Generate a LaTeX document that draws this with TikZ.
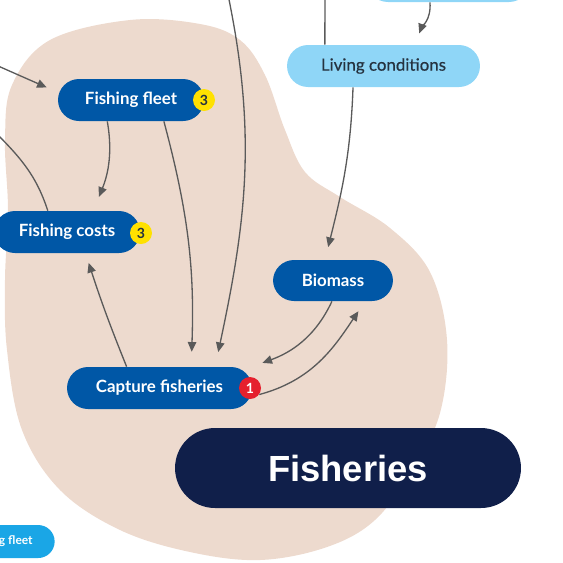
\documentclass[tikz,border=0pt]{standalone}
\usepackage{fontspec}
\setmainfont{Lato}
\newfontfamily\titlefont{Liberation Sans}
\newfontface\medfont{Lato}[FakeBold=0.5]
\usetikzlibrary{arrows.meta, calc}

\definecolor{blob}{HTML}{EDDACE}
\definecolor{fishblue}{HTML}{0057A6}
\definecolor{skyblue}{HTML}{8FD6F7}
\definecolor{cyanblue}{HTML}{1AA6E6}
\definecolor{navy}{HTML}{101F4A}
\definecolor{linkgray}{HTML}{5A5A5A}
\definecolor{badgeyellow}{HTML}{FFE100}
\definecolor{badgered}{HTML}{E5202E}
\definecolor{labeldark}{HTML}{25323F}

\begin{document}
\begin{tikzpicture}[x=0.02cm, y=-0.02cm,
  >={Triangle[length=5.5pt,width=4.8pt]},
  pill/.style={rectangle, rounded corners=0.42cm, minimum height=0.84cm, inner sep=0pt},
  bluebox/.style={pill, fill=fishblue, text=white, font=\bfseries\fontsize{9.6}{11}\selectfont},
  lightbox/.style={pill, fill=skyblue, text=labeldark, font=\medfont\fontsize{9.6}{11}\selectfont},
  badge/.style={circle, minimum size=0.44cm, inner sep=0pt, font=\bfseries\fontsize{8}{9}\selectfont},
  link/.style={draw=linkgray, line width=0.75pt}]
\useasboundingbox (0,0) rectangle (563,562);
\clip (0,0) rectangle (563,562);

% Background blob
\fill[blob] plot[smooth cycle, tension=0.6] coordinates {
  (130,20) (200,24) (240,40) (265,75) (285,130) (305,172) (340,197)
  (390,228) (430,272) (447,340) (440,413) (412,470) (375,520) (327,547)
  (260,560) (190,552) (120,530) (60,490) (22,430) (7,350) (5,280)
  (8,210) (5,140) (12,85) (50,40)};

% Nodes
\node[lightbox, minimum width=3.26cm] (tn) at (448.5,-19) {};
\node[lightbox, minimum width=3.86cm] (lc) at (383.5,66) {Living conditions};
\node[bluebox, minimum width=2.92cm] (ff) at (131,100) {Fishing fleet};
\node[bluebox, minimum width=2.92cm] (fc) at (67,232) {Fishing costs};
\node[bluebox, minimum width=2.4cm, minimum height=0.82cm] (bm) at (333,280.5) {Biomass};
\node[bluebox, minimum width=3.7cm] (cf) at (159.5,388) {Capture fisheries};
\node[pill, fill=navy, text=white, minimum width=6.92cm, minimum height=1.6cm,
  rounded corners=0.8cm, font=\titlefont\bfseries\fontsize{20.7}{24}\selectfont]
  (fish) at (348,468) {Fisheries};
\node[pill, fill=cyanblue, text=white, minimum height=0.66cm, rounded corners=0.33cm,
  inner xsep=0.44cm, anchor=east, font=\bfseries\fontsize{6.8}{8}\selectfont]
  (ffb) at (55,541.5) {Fishing fleet};

% Badges
\node[badge, fill=badgeyellow, text=labeldark] (b3a) at (204,100) {3};
\node[badge, fill=badgeyellow, text=labeldark] (b3b) at (141,233) {3};
\node[badge, fill=badgered, text=white] (b1) at (250,388) {1};

% Free ends
\coordinate (inleft) at (-20,58);
\coordinate (outleft) at (-10,127);
\coordinate (intop) at (227,-10);
\coordinate (outtop) at (325,-10);

% Links
\draw[link, ->, shorten >=6.8pt] (inleft) -- (ff.174);
\draw[link] (fc.132) to[out=108, in=-45] (outleft);
\draw[link, ->, shorten >=8.5pt] (ff.222) to[out=-80, in=68] (fc.39);
\draw[link, ->, shorten >=8.5pt] (ff.-33) to[out=-75, in=88] (cf.34.5);
\draw[link, ->, shorten >=8.5pt] (intop) to[out=-78, in=78] (cf.21);
\draw[link] (lc.160) -- (outtop);
\draw[link, ->, shorten >=6.8pt] (tn.-131) to[out=-85, in=70] (lc.34.5);
\draw[link, ->, shorten >=7.4pt] (lc.-145.5) to[out=-92, in=76] (bm.111);
\draw[link, ->, shorten >=6.3pt] (bm.-93) to[out=-115, in=20] (cf.13.5);
\draw[link, ->, shorten >=6.8pt] (b1.-35) to[out=15, in=-124] (bm.-33);
\draw[link, ->, shorten >=5.7pt] (cf.147) to[out=112, in=-72] (fc.-49);
\end{tikzpicture}
\end{document}
